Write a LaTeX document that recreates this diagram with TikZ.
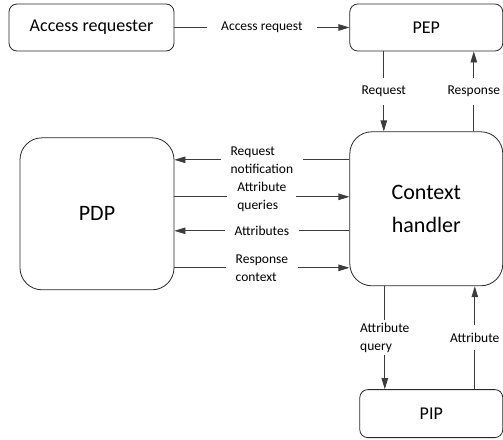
\documentclass[tikz,border=0pt]{standalone}
\usepackage{fontspec}
\setmainfont{Carlito}
\usetikzlibrary{arrows.meta, positioning, calc}
\definecolor{linegray}{RGB}{60,60,60}
\definecolor{boxdark}{RGB}{40,40,40}

\begin{document}
\begin{tikzpicture}[x=1pt, y=-1pt,
  box/.style={rectangle, rounded corners=8pt, draw=boxdark, line width=0.8pt,
              minimum height=47pt, font=\fontsize{18}{21}\selectfont},
  bigbox/.style={box, rounded corners=22pt, align=center,
              font=\fontsize{22}{33}\selectfont},
  arr/.style={-{Triangle[length=11pt, width=6.5pt]}, line width=0.8pt, color=linegray},
  lbl/.style={fill=white, inner xsep=10pt, inner ysep=3pt, align=left,
              text=black, font=\fontsize{13.5}{18}\selectfont}
]
  \useasboundingbox (0,0) rectangle (503,439);
  \node[box, minimum width=165pt] (req) at (91.5,27.5) {Access requester};
  \node[box, minimum width=153pt, right=175pt of req] (pep) {PEP};
  \node[bigbox, minimum width=153pt, minimum height=154pt, below=80pt of pep] (ctx) {Context\\handler};
  \node[bigbox, minimum width=154pt, minimum height=152pt, left=175pt of ctx, yshift=-5pt] (pdp) {PDP};
  \node[box, minimum width=143pt, minimum height=48pt, below=103pt of ctx, xshift=5pt] (pip) {PIP};
  \draw[arr] (req) -- node[lbl, inner xsep=14pt]{Access request} (pep);
  \draw[arr] ([xshift=-42.5pt]pep.south) -- node[lbl, inner ysep=8pt]{Request} ([xshift=-42.5pt]pep.south |- ctx.north);
  \draw[arr] ([xshift=47.5pt]ctx.north) -- node[lbl, inner ysep=8pt]{Response} ([xshift=47.5pt]ctx.north |- pep.south);
  \draw[arr] ([yshift=49pt]ctx.west) -- node[lbl]{Request\\notification} ([yshift=49pt]ctx.west -| pdp.east);
  \draw[arr] ([yshift=12pt]ctx.west -| pdp.east) -- node[lbl]{Attribute\\queries} ([yshift=12pt]ctx.west);
  \draw[arr] ([yshift=-22pt]ctx.west) -- node[lbl]{Attributes} ([yshift=-22pt]ctx.west -| pdp.east);
  \draw[arr] ([yshift=-59pt]ctx.west -| pdp.east) -- node[lbl]{Response\\context} ([yshift=-59pt]ctx.west);
  \draw[arr] ([xshift=-41.5pt]ctx.south) -- node[lbl]{Attribute\\query} ([xshift=-41.5pt]ctx.south |- pip.north);
  \draw[arr] ([xshift=48.5pt]ctx.south |- pip.north) -- node[lbl, inner ysep=8pt]{Attribute} ([xshift=48.5pt]ctx.south);
\end{tikzpicture}
\end{document}
